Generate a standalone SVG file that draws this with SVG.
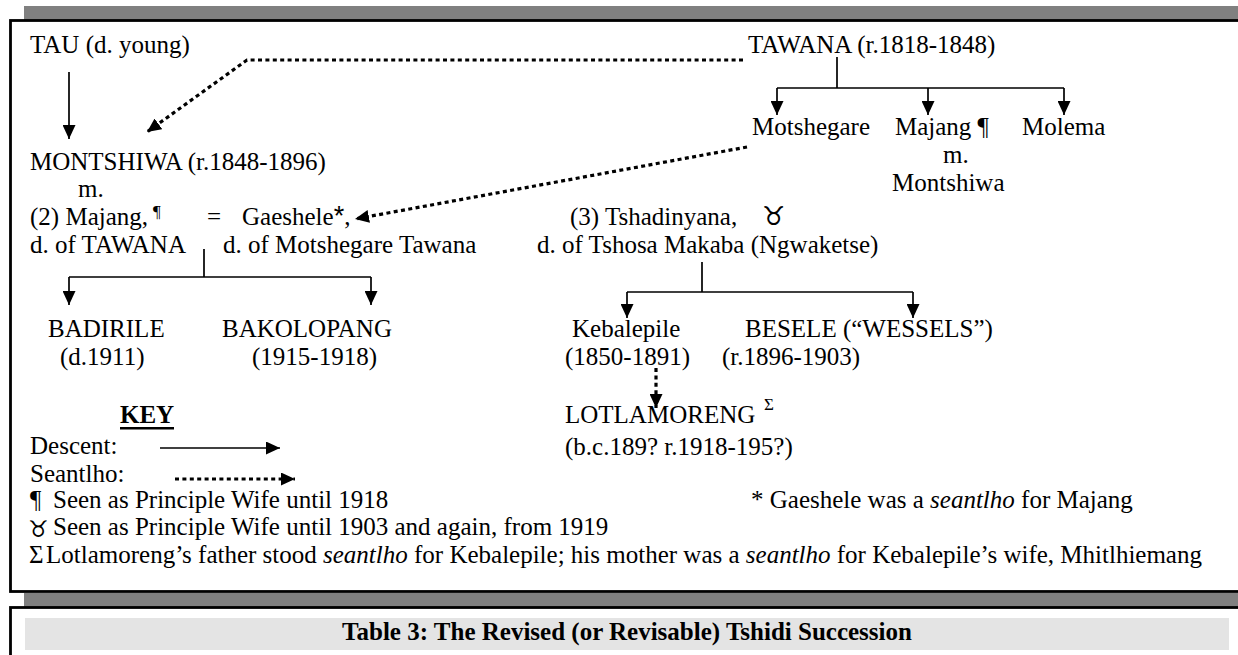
<svg xmlns="http://www.w3.org/2000/svg" width="1238" height="655" viewBox="0 0 1238 655">
<style>
text{font-family:"Liberation Serif","Times New Roman",serif;font-size:25px;fill:#000}
.b{font-weight:bold}
.sup{font-size:17px}
.sym{font-family:"DejaVu Sans",sans-serif;font-size:26px}
.symk{font-family:"DejaVu Sans",sans-serif;font-size:23px}
.ast{font-family:"Liberation Sans",Arial,sans-serif;font-size:27px}
.ln{fill:none;stroke:#000;stroke-width:1.7}
.dot{fill:none;stroke:#000;stroke-width:3.2;stroke-dasharray:4 3.4}
.shadow{fill:#808080}
.frame{fill:#fff;stroke:#000;stroke-width:2.8}
</style>
<defs>
<marker id="ah" markerUnits="userSpaceOnUse" markerWidth="14" markerHeight="13" refX="14" refY="6.5" orient="auto">
<path d="M0,0 L14,6.5 L0,13 z" fill="#000"/>
</marker>
</defs>
<rect width="1238" height="655" fill="#fff"/>
<!-- frames -->
<rect class="shadow" x="24" y="6" width="1214" height="14"/>
<rect class="frame" x="10.5" y="20.5" width="1250" height="571"/>
<rect class="shadow" x="24" y="593" width="1214" height="14"/>
<rect class="frame" x="10.5" y="607.5" width="1250" height="100"/>
<rect x="25" y="618" width="1204" height="32" fill="#e4e4e4"/>
<text class="b" x="627" y="640" text-anchor="middle">Table 3: The Revised (or Revisable) Tshidi Succession</text>

<g id="connectors">
<path class="ln" d="M69,72 V139" marker-end="url(#ah)"/>
<path class="dot" d="M743,60 H247 L147,132" marker-end="url(#ah)"/>
<path class="ln" d="M837,57 V88 M777,88 H1064"/>
<path class="ln" d="M777,88 V115" marker-end="url(#ah)"/>
<path class="ln" d="M928,88 V115" marker-end="url(#ah)"/>
<path class="ln" d="M1064,88 V115" marker-end="url(#ah)"/>
<path class="dot" d="M747,147 L355,219" marker-end="url(#ah)"/>
<path class="ln" d="M204,249 V277 M69,277 H371"/>
<path class="ln" d="M69,277 V305" marker-end="url(#ah)"/>
<path class="ln" d="M371,277 V305" marker-end="url(#ah)"/>
<path class="ln" d="M702,262 V292 M627,292 H913"/>
<path class="ln" d="M627,292 V318" marker-end="url(#ah)"/>
<path class="ln" d="M913,292 V318" marker-end="url(#ah)"/>
<path class="dot" d="M656,368 V408" marker-end="url(#ah)"/>
<path class="ln" d="M160,448 H280" marker-end="url(#ah)"/>
<path class="dot" d="M175,479 H295" marker-end="url(#ah)"/>
</g>

<g id="tau"><text x="30" y="53">TAU (d. young)</text></g>
<g id="tawana"><text x="748" y="53">TAWANA (r.1818-1848)</text></g>
<g id="montshiwa"><text x="30" y="170">MONTSHIWA (r.1848-1896)</text><text x="78" y="197">m.</text></g>
<g id="motshegare"><text x="752" y="135">Motshegare</text></g>
<g id="majang-child"><text x="895" y="135">Majang ¶</text><text x="943" y="163">m.</text><text x="892" y="191">Montshiwa</text></g>
<g id="molema"><text x="1022" y="135">Molema</text></g>
<g id="majang"><text x="30" y="225">(2) Majang,</text><text class="sup" x="153" y="217">¶</text><text x="30" y="253">d. of TAWANA</text></g>
<g id="gaeshele"><text x="207" y="225">=</text><text x="242" y="225">Gaeshele<tspan class="ast">*</tspan>,</text><text x="223" y="253">d. of Motshegare Tawana</text></g>
<g id="tshadinyana"><text x="570" y="225">(3) Tshadinyana,</text><text class="sym" x="762" y="225">♉&#xFE0E;</text><text x="537" y="253">d. of Tshosa Makaba (Ngwaketse)</text></g>
<g id="badirile"><text x="48" y="337">BADIRILE</text><text x="60" y="365">(d.1911)</text></g>
<g id="bakolopang"><text x="222" y="337">BAKOLOPANG</text><text x="252" y="365">(1915-1918)</text></g>
<g id="kebalepile"><text x="572" y="337">Kebalepile</text><text x="565" y="365">(1850-1891)</text></g>
<g id="besele"><text x="745" y="337">BESELE (“WESSELS”)</text><text x="722" y="365">(r.1896-1903)</text></g>
<g id="lotlamoreng"><text x="565" y="423">LOTLAMORENG</text><text class="sup" x="764" y="410">Σ</text><text x="565" y="455">(b.c.189? r.1918-195?)</text></g>

<g id="key">
<text class="b" x="120" y="423">KEY</text>
<rect x="120" y="427" width="54" height="2.5" fill="#000"/>
<text x="30" y="454">Descent:</text>
<text x="30" y="482">Seantlho:</text>
<text x="30" y="508">¶</text><text x="53" y="508">Seen as Principle Wife until 1918</text>
<text x="751" y="508">* Gaeshele was a <tspan font-style="italic">seantlho</tspan> for Majang</text>
<text class="symk" x="28" y="537">♉&#xFE0E;</text><text x="53" y="535">Seen as Principle Wife until 1903 and again, from 1919</text>
<text x="29" y="563" font-size="19">Σ</text><text x="46" y="563">Lotlamoreng’s father stood <tspan font-style="italic">seantlho</tspan> for Kebalepile; his mother was a <tspan font-style="italic">seantlho</tspan> for Kebalepile’s wife, Mhitlhiemang</text>
</g>
</svg>
